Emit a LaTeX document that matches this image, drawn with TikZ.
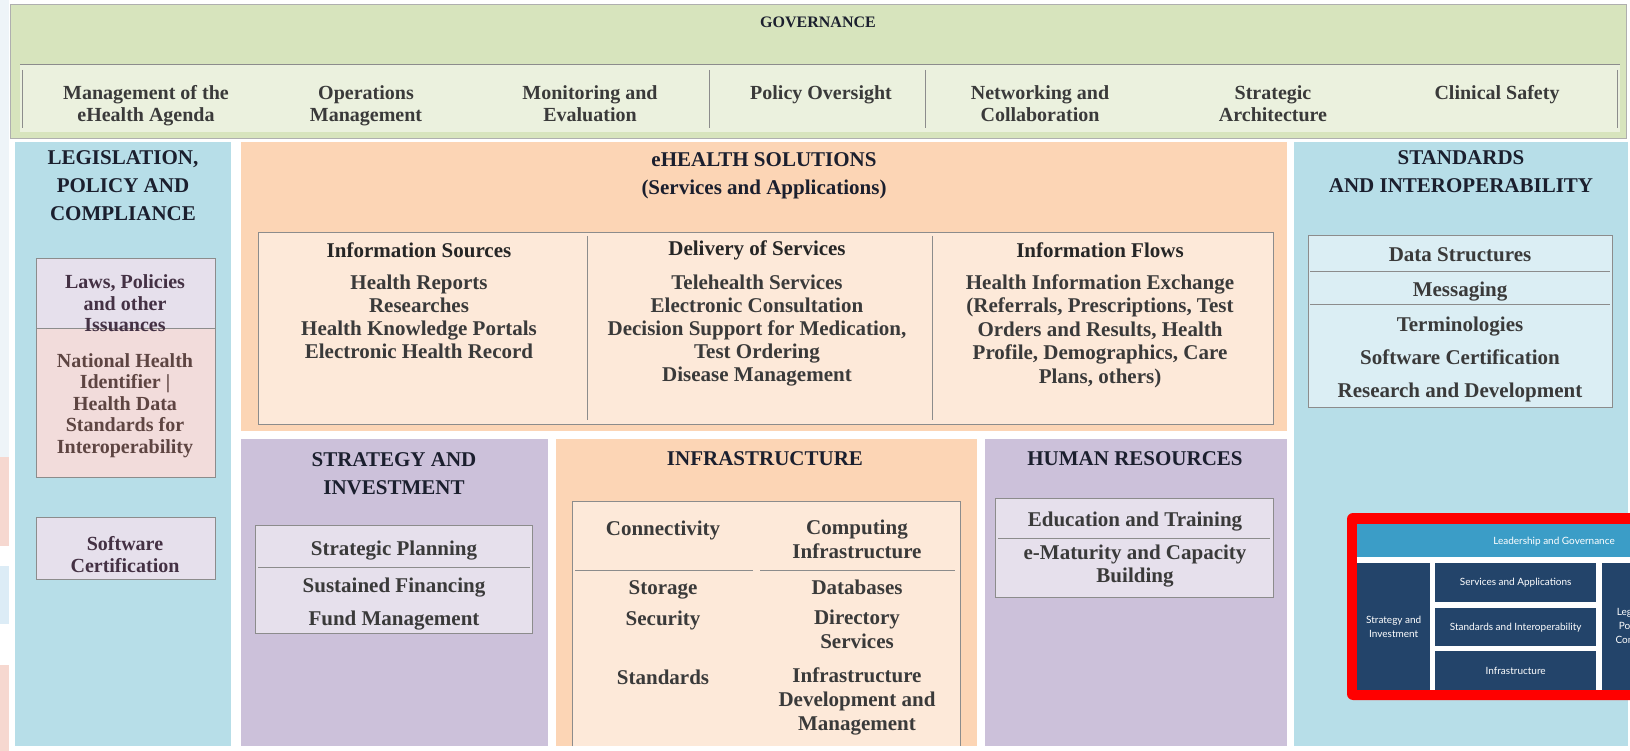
\documentclass[tikz,border=0pt]{standalone}
\usepackage{fontspec}
\setmainfont{Liberation Serif}
\newfontfamily\insetfont{Lato}
\usepackage{xcolor}
\usetikzlibrary{positioning,calc}

\definecolor{govgreen}{HTML}{D7E4BD}
\definecolor{govband}{HTML}{EBF1DE}
\definecolor{aqua}{HTML}{B7DEE8}
\definecolor{aqualt}{HTML}{DBEEF4}
\definecolor{peach}{HTML}{FCD5B5}
\definecolor{peachlt}{HTML}{FDE9D9}
\definecolor{lilac}{HTML}{CCC1DA}
\definecolor{lilaclt}{HTML}{E6E0EC}
\definecolor{rosylt}{HTML}{F2DCDB}
\definecolor{titlecol}{HTML}{1B1F2E}
\definecolor{itemcol}{HTML}{3A3A3A}
\definecolor{nhicol}{HTML}{5E4542}
\definecolor{edgegray}{HTML}{8C8C8C}
\definecolor{insetbar}{HTML}{3B9DC7}
\definecolor{insetnavy}{HTML}{23446A}
\definecolor{framered}{HTML}{FF0000}
\definecolor{stripblue}{HTML}{EEF4F8}
\definecolor{stripblue2}{HTML}{DCECF6}
\definecolor{strippink}{HTML}{F6D8D0}

\tikzset{
  govtitle/.style={font=\fontsize{16}{18}\selectfont\bfseries, text=titlecol},
  coltitle/.style={font=\fontsize{21}{28}\selectfont\bfseries, text=titlecol, align=center, yshift=-2.5pt},
  colhead/.style={font=\fontsize{21}{24}\selectfont\bfseries, text=black!85, align=center},
  itemtxt/.style={font=\fontsize{21}{23}\selectfont\bfseries, text=itemcol, align=center,
    inner sep=0pt, yshift=-2.5pt, execute at begin node=\strut, execute at end node=\strut},
  panelbox/.style={draw=edgegray, line width=0.7pt},
  insetblock/.style={fill=insetnavy, anchor=north west, inner sep=0pt, text=white,
    font=\insetfont\fontsize{10}{14}\selectfont, align=center},
}

\begin{document}
\begin{tikzpicture}[x=1pt,y=-1pt]
\useasboundingbox (0,0) rectangle (1630,751);

% slide behind, left edge
\fill[stripblue] (0,0) rectangle (9,457);
\fill[strippink] (0,457) rectangle (9,546);
\fill[stripblue2] (0,566) rectangle (9,624);
\fill[strippink] (0,665) rectangle (9,751);

% governance
\filldraw[fill=govgreen, draw=edgegray!70] (10,4) rectangle (1626,138);
\fill[govband] (20,65) rectangle (1620,132);
\draw[edgegray, line width=1pt] (20,65) -- (1620,65);
\foreach \x in {22,709,925,1617}
  \draw[edgegray] (\x,70) -- (\x,128);
\node[govtitle] (govTitle) at (818,22) {GOVERNANCE};
\node[itemtxt, font=\fontsize{20}{22}\selectfont\bfseries] (agenda) at (146,104) {Management of the\\eHealth Agenda};
\node[itemtxt, font=\fontsize{20}{22}\selectfont\bfseries] (opsMgmt) at (366,104) {Operations\\Management};
\node[itemtxt, font=\fontsize{20}{22}\selectfont\bfseries] (monEval) at (590,104) {Monitoring and\\Evaluation};
\node[itemtxt, font=\fontsize{20}{22}\selectfont\bfseries] (policy) at (821,93) {Policy Oversight};
\node[itemtxt, font=\fontsize{20}{22}\selectfont\bfseries] (network) at (1040,104) {Networking and\\Collaboration};
\node[itemtxt, font=\fontsize{20}{22}\selectfont\bfseries] (stratArch) at (1273,104) {Strategic\\Architecture};
\node[itemtxt, font=\fontsize{20}{22}\selectfont\bfseries] (safety) at (1497,93) {Clinical Safety};

% legislation, policy and compliance
\fill[aqua] (15,142) rectangle (231,746);
\node[coltitle] (legTitle) at (123,183) {LEGISLATION,\\POLICY AND\\COMPLIANCE};
\filldraw[panelbox, fill=lilaclt] (36,258) rectangle (215,328);
\filldraw[panelbox, fill=rosylt] (36,328) rectangle (215,477);
\filldraw[panelbox, fill=lilaclt] (36,517) rectangle (215,579);
\node[itemtxt, font=\fontsize{20}{21.7}\selectfont\bfseries, text=itemcol!85!violet] (laws) at (125,304) {Laws, Policies\\and other\\Issuances};
\node[itemtxt, font=\fontsize{20}{21.6}\selectfont\bfseries, text=nhicol] (nhi) at (125,404) {National Health\\Identifier |\\Health Data\\Standards for\\Interoperability};
\node[itemtxt, font=\fontsize{20}{21.7}\selectfont\bfseries, text=itemcol!85!violet] (legSoft) at (125,555) {Software\\Certification};

% eHealth solutions
\fill[peach] (241,142) rectangle (1287,431);
\node[coltitle] (solTitle) at (764,173) {eHEALTH SOLUTIONS\\(Services and Applications)};
\filldraw[panelbox, fill=peachlt] (258,232) rectangle (1273,424);
\draw[edgegray] (587,236) -- (587,420) (932,236) -- (932,420);
\node[colhead] (srcHead) at (419,250) {Information Sources};
\node[colhead] (delHead) at (757,250) {Delivery of Services};
\node[colhead] (flowHead) at (1100,250) {Information Flows};
\node[itemtxt] (srcList) at (419,318) {Health Reports\\Researches\\Health Knowledge Portals\\Electronic Health Record};
\node[itemtxt] (delList) at (757,329) {Telehealth Services\\Electronic Consultation\\Decision Support for Medication,\\Test Ordering\\Disease Management};
\node[itemtxt, font=\fontsize{21}{23.5}\selectfont\bfseries] (flowList) at (1100,330) {Health Information Exchange\\(Referrals, Prescriptions, Test\\Orders and Results, Health\\Profile, Demographics, Care\\Plans, others)};

% standards and interoperability
\fill[aqua] (1294,142) rectangle (1628,746);
\node[coltitle] (stdTitle) at (1461,169) {STANDARDS\\AND INTEROPERABILITY};
\filldraw[panelbox, fill=aqualt] (1308,235) rectangle (1612,407);
\draw[edgegray] (1310,271) -- (1610,271) (1310,304) -- (1610,304);
\node[itemtxt] (dataStruct) at (1460,254) {Data Structures};
\node[itemtxt] (messaging) at (1460,289) {Messaging};
\node[itemtxt] (termin) at (1460,324) {Terminologies};
\node[itemtxt] (softCert) at (1460,357) {Software Certification};
\node[itemtxt] (resDev) at (1460,390) {Research and Development};

% strategy and investment
\fill[lilac] (241,439) rectangle (548,746);
\node[coltitle] (stratTitle) at (394,471) {STRATEGY AND\\INVESTMENT};
\filldraw[panelbox, fill=lilaclt] (255,525) rectangle (532,633);
\draw[edgegray] (258,567) -- (530,567);
\node[itemtxt] (planning) at (394,548) {Strategic Planning};
\node[itemtxt] (financing) at (394,585) {Sustained Financing};
\node[itemtxt] (fundMgmt) at (394,618) {Fund Management};

% infrastructure
\fill[peach] (556,439) rectangle (977,746);
\node[coltitle] (infTitle) at (765,456) {INFRASTRUCTURE};
\fill[peachlt] (572,501) rectangle (960,746);
\draw[edgegray] (572,746) -- (572,501) -- (960,501) -- (960,746);
\draw[edgegray] (575,570) -- (753,570) (760,570) -- (955,570);
\node[itemtxt] (connect) at (663,528) {Connectivity};
\node[itemtxt] (storage) at (663,587) {Storage};
\node[itemtxt] (security) at (663,618) {Security};
\node[itemtxt] (infStd) at (663,677) {Standards};
\node[itemtxt, font=\fontsize{21}{24}\selectfont\bfseries] (computing) at (857,540) {Computing\\Infrastructure};
\node[itemtxt] (databases) at (857,587) {Databases};
\node[itemtxt, font=\fontsize{21}{24}\selectfont\bfseries] (directory) at (857,630) {Directory\\Services};
\node[itemtxt, font=\fontsize{21}{24}\selectfont\bfseries] (infDev) at (857,700) {Infrastructure\\Development and\\Management};

% human resources
\fill[lilac] (985,439) rectangle (1287,746);
\node[coltitle] (hrTitle) at (1135,456) {HUMAN RESOURCES};
\filldraw[panelbox, fill=lilaclt] (995,498) rectangle (1273,597);
\draw[edgegray] (998,538) -- (1270,538);
\node[itemtxt] (training) at (1135,519) {Education and Training};
\node[itemtxt] (capacity) at (1135,565) {e-Maturity and Capacity\\Building};

% inset model, cut at the right edge
\begin{scope}
  \clip (1340,505) rectangle (1630,751);
  \fill[framered, rounded corners=6pt] (1347,513) rectangle (1760,700);
  \fill[white] (1357,524) rectangle (1750,690);
  \node[insetblock, fill=insetbar, minimum width=393pt, minimum height=33pt] (insGov) at (1357,524) {};
  \node[text=white, font=\insetfont\fontsize{10}{14}\selectfont] (insGovTxt) at (1554,542) {Leadership and Governance};
  \node[insetblock, minimum width=73pt, minimum height=127pt] (insStrat) at (1357,563) {Strategy and\\Investment};
  \node[insetblock, minimum width=161pt, minimum height=39pt] (insServ) at (1435,563) {Services and Applications};
  \node[insetblock, minimum width=161pt, minimum height=38pt] (insStd) at (1435,608) {Standards and Interoperability};
  \node[insetblock, minimum width=161pt, minimum height=39pt] (insInf) at (1435,651) {Infrastructure};
  \node[insetblock, minimum width=78pt, minimum height=127pt] (insLeg) at (1602,563) {Legislation,\\Policy and\\Compliance};
\end{scope}
\end{tikzpicture}
\end{document}
